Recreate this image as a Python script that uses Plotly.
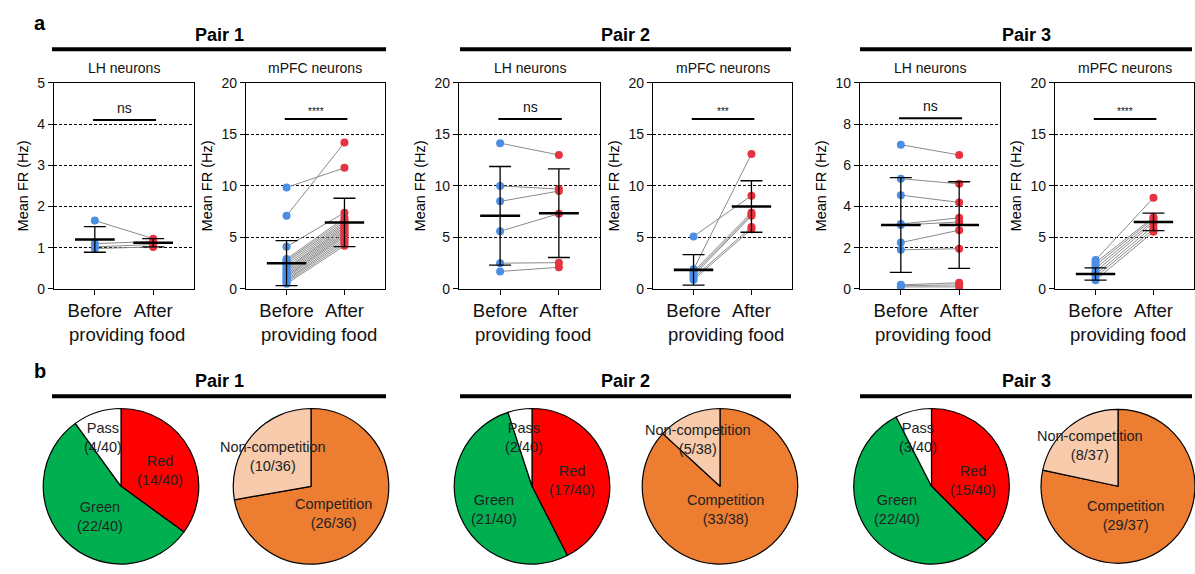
import plotly.graph_objects as go

W, H = 1195, 574

# ---------------- data ----------------
pairs = ["Pair 1", "Pair 2", "Pair 3"]
panel_titles = ["LH neurons", "mPFC neurons"] * 3
categories = ["Before", "After"]
y_max = [5, 20, 20, 20, 10, 20]
y_dtick = [1, 5, 5, 5, 2, 5]
sig_labels = ["ns", "****", "ns", "***", "ns", "****"]
sig_y = [4.1, 16.5, 16.5, 16.5, 8.28, 16.5]

before = [
    [1.66, 1.10, 1.02, 0.98],
    [9.85, 7.1, 4.1, 2.9, 2.75, 2.6, 2.4, 2.2, 2.0, 1.9, 1.75, 1.6, 1.45, 1.3, 1.2, 1.05, 0.9, 0.8, 0.65, 0.5],
    [14.15, 10.0, 8.5, 5.6, 2.5, 1.7],
    [5.1, 1.9, 1.7, 1.5, 1.3, 1.1, 0.9],
    [7.0, 5.35, 4.55, 3.15, 3.1, 2.25, 1.9, 0.2, 0.15, 0.1],
    [2.8, 2.55, 2.3, 2.0, 1.7, 1.4, 1.15, 0.85],
]
after = [
    [1.22, 1.15, 1.08, 1.02],
    [11.75, 14.2, 7.4, 6.9, 6.7, 6.5, 6.35, 6.2, 6.05, 5.9, 5.75, 5.6, 5.45, 5.3, 5.15, 5.0, 4.8, 4.6, 4.4, 4.2],
    [13.0, 9.7, 9.5, 7.3, 2.55, 2.1],
    [9.05, 13.1, 7.4, 7.2, 7.1, 6.0, 5.8],
    [6.5, 5.1, 4.2, 3.45, 3.25, 2.85, 1.95, 0.3, 0.2, 0.1],
    [8.85, 6.95, 6.8, 6.6, 6.4, 6.1, 5.8, 5.55],
]
mean_before = [1.2, 2.5, 7.1, 1.85, 3.1, 1.45]
sd_before = [0.31, 2.18, 4.78, 1.48, 2.3, 0.6]
mean_after = [1.12, 6.45, 7.35, 8.0, 3.1, 6.5]
sd_after = [0.1, 2.35, 4.3, 2.5, 2.1, 0.85]

cell_labels = ["Red", "Green", "Pass"]
cell_counts = [[14, 22, 4], [17, 21, 2], [15, 22, 3]]
cell_total = [40, 40, 40]
comp_labels = ["Competition", "Non-competition"]
comp_counts = [[26, 10], [33, 5], [29, 8]]
comp_total = [36, 38, 37]

# ---------------- styling ----------------
FONT = "Liberation Sans, Arial, sans-serif"
BLUE = "#4a8ee6"
RED = "#e6333f"
cell_colors = ["#ff0000", "#00b050", "#ffffff"]
comp_colors = ["#ed7d31", "#f8cbad"]


def px(x):
    return x / W


def py(y):
    return 1 - y / H


def note(x, y, text, size, color="#111", **kw):
    d = dict(x=px(x), y=py(y), xref="paper", yref="paper", text=text,
             showarrow=False, xanchor="center", yanchor="middle",
             font=dict(size=size, family=FONT, color=color))
    d.update(kw)
    return d


plot_x = [(54, 194), (246, 385), (459, 600), (653, 792), (860, 1000), (1055, 1194)]
plot_y = (77, 289)

fig = go.Figure()
layout = dict(
    width=W, height=H, margin=dict(l=0, r=0, t=0, b=0),
    paper_bgcolor="white", plot_bgcolor="white", showlegend=False,
    font=dict(family=FONT, color="black"),
)
annotations = []
shapes = []

for i in range(6):
    xa = "x" if i == 0 else f"x{i+1}"
    ya = "y" if i == 0 else f"y{i+1}"
    xk = "xaxis" if i == 0 else f"xaxis{i+1}"
    yk = "yaxis" if i == 0 else f"yaxis{i+1}"
    x0, x1 = plot_x[i]
    layout[xk] = dict(
        domain=[px(x0), px(x1)], range=[-0.7, 1.7], anchor=ya,
        tickvals=[0, 1], ticktext=categories, ticks="outside", ticklen=5,
        tickcolor="black", showline=True, linecolor="black", linewidth=1.3,
        mirror=True, showgrid=False, zeroline=False,
        tickfont=dict(size=18.5, family=FONT, color="#111"),
    )
    layout[yk] = dict(
        domain=[py(plot_y[1]), py(plot_y[0])], range=[0, y_max[i]], anchor=xa,
        dtick=y_dtick[i], ticks="outside", ticklen=5, tickcolor="black",
        showline=True, linecolor="black", linewidth=1.3, mirror=True,
        showgrid=True, gridcolor="black", gridwidth=1, griddash="3px,2px",
        zeroline=False, tickfont=dict(size=14, family=FONT, color="#111"),
        title=dict(text="Mean FR (Hz)", font=dict(size=14.5, family=FONT), standoff=5),
    )

    # paired lines
    lx, ly = [], []
    for b, a in zip(before[i], after[i]):
        lx += [0, 1, None]
        ly += [b, a, None]
    fig.add_trace(go.Scatter(x=lx, y=ly, mode="lines", xaxis=xa, yaxis=ya,
                             line=dict(color="#8a8a8a", width=1), hoverinfo="skip"))
    fig.add_trace(go.Scatter(x=[0] * len(before[i]), y=before[i], mode="markers",
                             xaxis=xa, yaxis=ya, marker=dict(color=BLUE, size=8)))
    fig.add_trace(go.Scatter(x=[1] * len(after[i]), y=after[i], mode="markers",
                             xaxis=xa, yaxis=ya, marker=dict(color=RED, size=8)))
    # error bars (SD)
    fig.add_trace(go.Scatter(
        x=[0, 1], y=[mean_before[i], mean_after[i]], mode="markers",
        xaxis=xa, yaxis=ya, marker=dict(color="black", size=1),
        error_y=dict(type="data", array=[sd_before[i], sd_after[i]],
                     color="black", thickness=1.3, width=11)))
    # mean lines
    fig.add_trace(go.Scatter(
        x=[-0.34, 0.34, None, 0.66, 1.34],
        y=[mean_before[i], mean_before[i], None, mean_after[i], mean_after[i]],
        mode="lines", xaxis=xa, yaxis=ya, line=dict(color="black", width=2.6)))
    # significance bar
    fig.add_trace(go.Scatter(
        x=[-0.03, 1.05], y=[sig_y[i], sig_y[i]], mode="lines",
        xaxis=xa, yaxis=ya, line=dict(color="black", width=2)))
    is_star = "*" in sig_labels[i]
    annotations.append(dict(
        x=0.51, y=sig_y[i], xref=xa, yref=ya, text=sig_labels[i], showarrow=False,
        xanchor="center", yanchor="bottom", yshift=0 if is_star else 2,
        font=dict(size=10 if is_star else 14, family=FONT, color="#111")))
    # panel subtitle
    annotations.append(note((x0 + x1) / 2, 62, panel_titles[i], 14))
    # second line of x labels
    annotations.append(note((x0 + x1) / 2 + 3, 336, "providing food", 18.5))

# pair headers (top and bottom)
header_lines = [(52, 386), (460, 791), (860, 1192)]
for k in range(3):
    a, b = header_lines[k]
    cx = (a + b) / 2
    for ty, ly in [(28, 42.5), (384, 399.5)]:
        annotations.append(note(cx, ty, f"<b>{pairs[k]}</b>", 18, color="black"))
        shapes.append(dict(type="line", xref="paper", yref="paper",
                           x0=px(a), x1=px(b), y0=py(ly), y1=py(ly),
                           line=dict(color="black", width=4)))

for lab, yy in [("a", 15), ("b", 373)]:
    annotations.append(note(40, yy, f"<b>{lab}</b>", 20, color="black"))

# pies
pie1_x = [(42, 200), (452, 612), (852, 1011)]
pie2_x = [(232, 390), (640, 800), (1041, 1195)]
pie_y = (412, 572)
cell_label_pos = [
    [(160, 476), (100, 523), (103, 442)],
    [(572, 486), (494, 516), (524, 442)],
    [(973, 486), (897, 516), (918, 442)],
]
comp_label_pos = [
    [(333, 520), (273, 461)],
    [(725, 516), (698, 444)],
    [(1125, 522), (1090, 450)],
]
for k in range(3):
    fig.add_trace(go.Pie(
        labels=cell_labels, values=cell_counts[k], sort=False, direction="clockwise",
        rotation=0, marker=dict(colors=cell_colors, line=dict(color="black", width=1.2)),
        textinfo="none", hoverinfo="label+value",
        domain=dict(x=[px(pie1_x[k][0]), px(pie1_x[k][1])], y=[py(pie_y[1]), py(pie_y[0])])))
    fig.add_trace(go.Pie(
        labels=comp_labels, values=comp_counts[k], sort=False, direction="clockwise",
        rotation=0, marker=dict(colors=comp_colors, line=dict(color="black", width=1.2)),
        textinfo="none", hoverinfo="label+value",
        domain=dict(x=[px(pie2_x[k][0]), min(1, px(pie2_x[k][1]))], y=[py(pie_y[1]), py(pie_y[0])])))
    for j, lab in enumerate(cell_labels):
        xx, yy = cell_label_pos[k][j]
        annotations.append(note(xx, yy, f"{lab}<br>({cell_counts[k][j]}/{cell_total[k]})",
                                14.5, color="#222"))
    for j, lab in enumerate(comp_labels):
        xx, yy = comp_label_pos[k][j]
        annotations.append(note(xx, yy, f"{lab}<br>({comp_counts[k][j]}/{comp_total[k]})",
                                14.5, color="#222"))

layout["annotations"] = annotations
layout["shapes"] = shapes
fig.update_layout(**layout)
fig.write_html("out.html")
